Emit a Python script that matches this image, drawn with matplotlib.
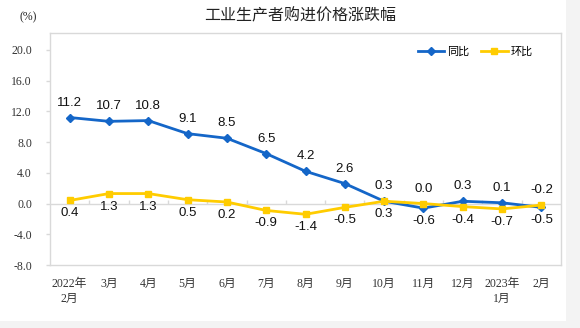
import matplotlib.pyplot as plt
from matplotlib.patches import Rectangle

months = ['2022年\n2月', '3月', '4月', '5月', '6月', '7月', '8月', '9月',
          '10月', '11月', '12月', '2023年\n1月', '2月']
yoy = [11.2, 10.7, 10.8, 9.1, 8.5, 6.5, 4.2, 2.6, 0.3, -0.6, 0.3, 0.1, -0.5]
mom = [0.4, 1.3, 1.3, 0.5, 0.2, -0.9, -1.4, -0.5, 0.3, 0.0, -0.4, -0.7, -0.2]
yticks = [-8, -4, 0, 4, 8, 12, 16, 20]

cjk = ['Noto Sans CJK SC', 'DejaVu Sans']
serif = ['Liberation Serif', 'Noto Sans CJK SC']
plt.rcParams['font.family'] = cjk

blue = '#1466c8'
yellow = '#ffcc00'
grey = '#d9d9d9'

fig = plt.figure(figsize=(5.8, 3.28), dpi=100, facecolor='#f3f3f3')
fig.patches.append(Rectangle((0, 7 / 328), 566 / 580, 1, transform=fig.transFigure,
                             facecolor='white', edgecolor='none', zorder=-10))
ax = fig.add_axes([50 / 580, 63 / 328, 511 / 580, 232 / 328])
ax.set_facecolor('white')

x = list(range(len(months)))
ax.axhline(0, color=grey, lw=1, zorder=1)
ax.vlines([i + 0.5 for i in x[:-1]], 0, 0.5, color=grey, lw=1, zorder=1)

ax.plot(x, yoy, color=blue, lw=2, marker='D', ms=4.5, label='同比', zorder=3)
ax.plot(x, mom, color=yellow, lw=2, marker='s', ms=4, label='环比', zorder=3)

for i in x:
    hi = max(yoy[i], mom[i])
    lo = min(yoy[i], mom[i])
    ax.annotate(f'{hi:.1f}', (i, hi), xytext=(0, 15), textcoords='offset pixels',
                ha='center', va='center', fontsize=9.5, family='Liberation Sans', color='#111')
    ax.annotate(f'{lo:.1f}', (i, lo), xytext=(0, -13), textcoords='offset pixels',
                ha='center', va='center', fontsize=9.5, family='Liberation Sans', color='#111')

ax.set_xlim(-0.5, len(months) - 0.5)
ax.set_ylim(-8, 22.2)
ax.set_yticks(yticks)
ax.set_yticklabels([f'{v:.1f}' for v in yticks], family=serif, fontsize=8.5)
ax.set_xticks(x)
ax.set_xticklabels(months, family=serif, fontsize=8.5, linespacing=1.4)
ax.tick_params(axis='x', length=0, pad=9, labelcolor='#333')
ax.tick_params(axis='y', length=3, width=1, color=grey, pad=10, labelcolor='#333')
for s in ax.spines.values():
    s.set_color(grey)
    s.set_linewidth(1)

ax.legend(loc='upper right', frameon=False, ncol=2, fontsize=8, handlelength=2.4,
          columnspacing=1.0, handletextpad=0.3, bbox_to_anchor=(0.965, 0.985))

fig.text(300 / 580, 1 - 16 / 328, '工业生产者购进价格涨跌幅', ha='center', va='center',
         fontsize=11.5, color='#222')
fig.text(28 / 580, 1 - 17 / 328, '(%)', ha='center', va='center', family=serif,
         fontsize=8.5, color='#222')

fig.savefig('out.png', dpi=100, facecolor=fig.get_facecolor())
